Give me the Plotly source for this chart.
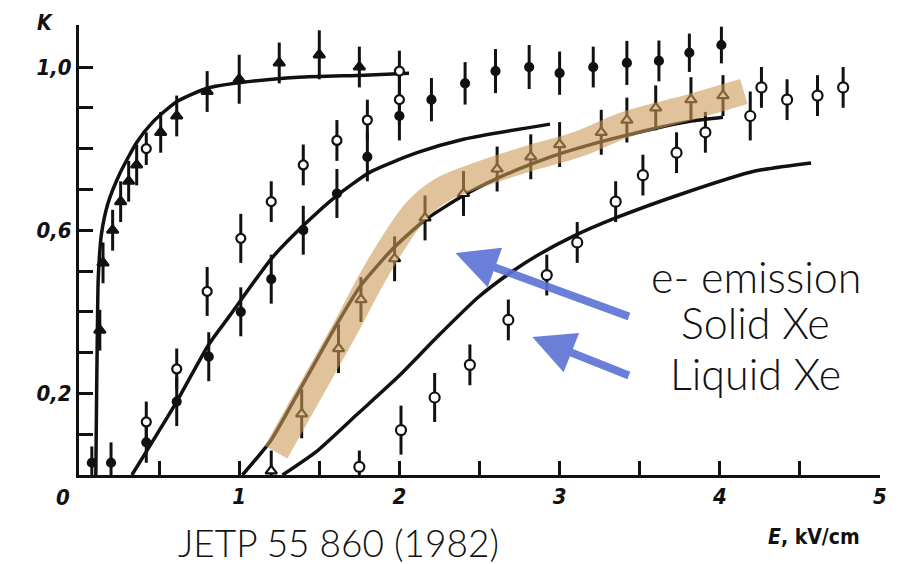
import plotly.graph_objects as go

# ---- measured data: emission coefficient K vs field E (kV/cm) ----

# filled triangles on the fast-rising curve
ftri_E = [0.13, 0.15, 0.21, 0.26, 0.31, 0.36, 0.51, 0.61, 0.80, 1.00, 1.25, 1.50, 1.75]
ftri_K = [0.355, 0.52, 0.60, 0.67, 0.72, 0.76, 0.84, 0.88, 0.94, 0.97, 1.01, 1.03, 1.00]
ftri_err = [0.05, 0.05, 0.05, 0.05, 0.05, 0.05, 0.05, 0.05, 0.05, 0.06, 0.05, 0.06, 0.05]

# filled circles: near-threshold points, middle curve, and the upper row
fcirc_E = [0.08, 0.20, 0.42, 0.61, 0.81, 1.01, 1.20, 1.40, 1.61, 1.80, 2.00,
           2.20, 2.41, 2.60, 2.81, 3.00, 3.21, 3.42, 3.62, 3.81, 4.01]
fcirc_K = [0.03, 0.03, 0.08, 0.18, 0.29, 0.40, 0.48, 0.60, 0.69, 0.78, 0.88,
           0.92, 0.96, 0.99, 1.00, 0.985, 1.00, 1.01, 1.015, 1.035, 1.054]
fcirc_err = [0.04, 0.05, 0.05, 0.06, 0.06, 0.06, 0.06, 0.06, 0.06, 0.06, 0.06,
             0.053, 0.052, 0.054, 0.054, 0.053, 0.05, 0.054, 0.05, 0.047, 0.045]

# open circles above the middle curve
ocirc_E = [0.42, 0.42, 0.61, 0.80, 1.01, 1.20, 1.40, 1.61, 1.80, 2.00, 2.00]
ocirc_K = [0.80, 0.13, 0.26, 0.45, 0.58, 0.67, 0.76, 0.82, 0.87, 0.92, 0.99]
ocirc_err = [0.04, 0.05, 0.05, 0.06, 0.06, 0.05, 0.05, 0.05, 0.05, 0.06, 0.05]

# open triangles: solid Xe
solid_E = [1.20, 1.39, 1.62, 1.76, 1.97, 2.16, 2.40, 2.61, 2.82, 3.00, 3.26, 3.42, 3.60, 3.82, 4.02]
solid_K = [0.01, 0.15, 0.31, 0.43, 0.53, 0.63, 0.69, 0.75, 0.78, 0.81, 0.84, 0.87, 0.90, 0.92, 0.93]
solid_err = [0.05, 0.06, 0.06, 0.055, 0.055, 0.055, 0.055, 0.055, 0.055, 0.055, 0.055, 0.055, 0.055, 0.055, 0.05]

# open circles: liquid Xe
liquid_E = [1.75, 2.01, 2.22, 2.44, 2.68, 2.92, 3.11, 3.35, 3.52, 3.73, 3.91, 4.19, 4.26, 4.42, 4.61, 4.77]
liquid_K = [0.02, 0.11, 0.19, 0.27, 0.38, 0.49, 0.57, 0.67, 0.735, 0.79, 0.84, 0.88, 0.95, 0.92, 0.93, 0.95]
liquid_err = [0.04, 0.06, 0.06, 0.05, 0.05, 0.05, 0.05, 0.05, 0.05, 0.05, 0.05, 0.06, 0.05, 0.05, 0.05, 0.05]

# ---- calculated curves ----
fast_E = [0.105, 0.11, 0.115, 0.12, 0.14, 0.18, 0.25, 0.36, 0.46, 0.61, 0.80, 1.01, 1.37, 1.78, 2.06]
fast_K = [0.0, 0.2, 0.36, 0.48, 0.59, 0.665, 0.735, 0.815, 0.865, 0.915, 0.948, 0.962, 0.975, 0.98, 0.985]

mid_E = [0.33, 0.61, 0.81, 0.94, 1.20, 1.41, 1.61, 1.82, 2.11, 2.40, 2.94]
mid_K = [0.0, 0.18, 0.32, 0.39, 0.53, 0.615, 0.685, 0.743, 0.79, 0.823, 0.86]

solid_fit_E = [1.02, 1.20, 1.38, 1.61, 1.76, 1.96, 2.16, 2.40, 2.61, 2.81, 3.00, 3.26, 3.42, 3.60, 3.83, 4.02]
solid_fit_K = [0.0, 0.086, 0.21, 0.37, 0.465, 0.555, 0.625, 0.685, 0.727, 0.76, 0.787, 0.817, 0.833, 0.85, 0.868, 0.877]

liquid_fit_E = [1.27, 1.49, 1.74, 1.99, 2.24, 2.49, 2.69, 2.86, 3.09, 3.35, 3.77, 4.22, 4.57]
liquid_fit_K = [0.0, 0.06, 0.15, 0.24, 0.34, 0.435, 0.495, 0.538, 0.586, 0.63, 0.69, 0.745, 0.765]

# highlighter stroke along the solid-Xe points
band_E = [1.23, 1.37, 1.65, 1.87, 2.11, 2.27, 2.49, 2.80, 3.11, 3.42, 3.80, 4.15]
band_K = [0.056, 0.154, 0.35, 0.51, 0.65, 0.70, 0.735, 0.775, 0.81, 0.86, 0.90, 0.94]

y_tick_vals = [0.1, 0.2, 0.3, 0.4, 0.5, 0.6, 0.7, 0.8, 0.9, 1.0]
y_tick_text = ["", "0,2", "", "", "", "0,6", "", "", "", "1,0"]
x_tick_vals = [0.5, 1.0, 1.5, 2.0, 2.5, 3.0, 3.5, 4.0, 4.5, 5.0]
x_tick_text = ["", "1", "", "2", "", "3", "", "4", "", "5"]

INK = "#111111"
fig = go.Figure()

for E, K in [(fast_E, fast_K), (mid_E, mid_K), (solid_fit_E, solid_fit_K), (liquid_fit_E, liquid_fit_K)]:
    fig.add_trace(go.Scatter(x=E, y=K, mode="lines", line=dict(color=INK, width=3.5, shape="spline", smoothing=0.6),
                             hoverinfo="skip"))


def points(E, K, err, symbol, size, fill):
    fig.add_trace(go.Scatter(
        x=E, y=K, mode="markers",
        marker=dict(symbol=symbol, size=size, color=fill, line=dict(color=INK, width=2.2)),
        error_y=dict(type="data", array=err, visible=True, color=INK, thickness=3, width=0),
    ))


points(ftri_E, ftri_K, ftri_err, "triangle-up", 10, INK)
points(fcirc_E, fcirc_K, fcirc_err, "circle", 8, INK)
points(ocirc_E, ocirc_K, ocirc_err, "circle", 9, "white")
points(solid_E, solid_K, solid_err, "triangle-up", 10, "white")
points(liquid_E, liquid_K, liquid_err, "circle", 10, "white")

fig.add_trace(go.Scatter(x=band_E, y=band_K, mode="lines",
                         line=dict(color="rgba(205,155,88,0.6)", width=26, shape="spline"),
                         hoverinfo="skip"))

tick_font = dict(family="DejaVu Sans Condensed, DejaVu Sans", size=22, color=INK, style="italic", weight="bold")

fig.update_xaxes(range=[0, 5], showline=True, linecolor=INK, linewidth=3, showgrid=False, zeroline=False,
                 ticks="inside", ticklen=14, tickwidth=2.5, tickcolor=INK,
                 tickvals=x_tick_vals, ticktext=x_tick_text, tickfont=tick_font)
fig.update_yaxes(range=[0, 1.103], showline=True, linecolor=INK, linewidth=3, showgrid=False, zeroline=False,
                 ticks="inside", ticklen=14, tickwidth=2.5, tickcolor=INK,
                 tickvals=y_tick_vals, ticktext=y_tick_text, tickfont=tick_font)

note_font = dict(family="Lato, Open Sans, sans-serif", size=43, color="#111111", weight=300)
arrow_col = "rgba(92,114,212,0.9)"

annotations = [
    dict(text="K", x=-0.042, y=1.004, font=dict(tick_font, size=21)),
    dict(text="0", x=-0.02, y=-0.049, font=tick_font),
    dict(text="<i>E</i>, kV/cm", x=0.917, y=-0.138, font=dict(tick_font, style="normal", size=21)),
    dict(text="JETP 55 860 (1982)", x=0.324, y=-0.149, font=dict(note_font, size=37)),
    dict(text="e- emission", x=0.845, y=0.442, font=note_font),
    dict(text="Solid Xe", x=0.845, y=0.338, font=note_font),
    dict(text="Liquid Xe", x=0.845, y=0.225, font=note_font),
]
for a in annotations:
    fig.add_annotation(xref="paper", yref="paper", showarrow=False, xanchor="center", yanchor="middle", **a)

# arrows pointing from the labels to the two data sets
fig.add_annotation(x=2.35, y=0.544, xref="x", yref="y", text="", showarrow=True, ax=175, ay=64,
                   arrowhead=2, arrowsize=1.05, arrowwidth=8, arrowcolor=arrow_col)
fig.add_annotation(x=2.83, y=0.338, xref="x", yref="y", text="", showarrow=True, ax=98, ay=39,
                   arrowhead=2, arrowsize=1.05, arrowwidth=8, arrowcolor=arrow_col)

fig.update_layout(width=899, height=564, margin=dict(l=79, r=14, t=25, b=89),
                  plot_bgcolor="white", paper_bgcolor="white", showlegend=False)

fig.write_html("out.html")
